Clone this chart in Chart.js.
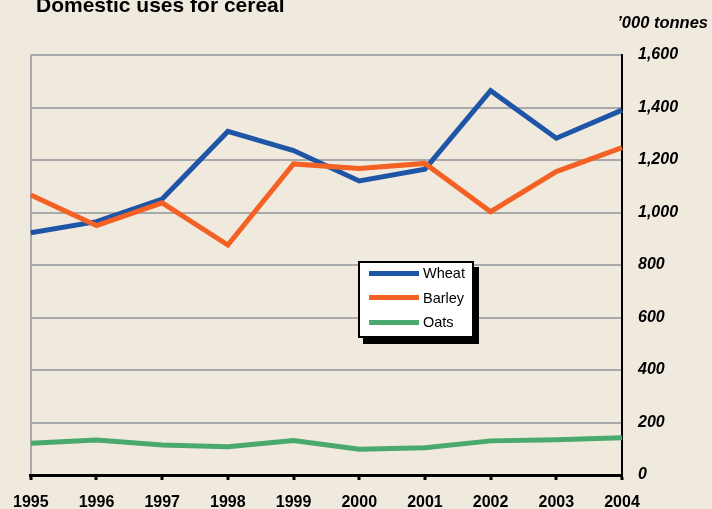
<!DOCTYPE html>
<html>
<head>
<meta charset="utf-8">
<script src="https://cdn.jsdelivr.net/npm/chart.js@4.4.0/dist/chart.umd.min.js"></script>
<style>
  html, body { margin: 0; padding: 0; background: #f0e9de; }
  #wrap { position: relative; width: 712px; height: 509px; overflow: hidden; }
  #legend {
    position: absolute; left: 358px; top: 261px; width: 112px; height: 73px;
    background: #fff; border: 2px solid #000; box-shadow: 5px 6px 0 #000;
    font-family: "Liberation Sans", Arial, sans-serif; font-size: 14.5px; color: #000;
  }
  .row { position: absolute; left: 9px; height: 20px; display: flex; align-items: center; }
  .row span.sw { display: inline-block; width: 50px; height: 5px; margin-right: 4px; }
</style>
</head>
<body>
<div id="wrap">
  <canvas id="chart" width="712" height="509"></canvas>
  <div id="legend"></div>
</div>
<script>
// ========== Data ==========
const years = ['1995', '1996', '1997', '1998', '1999', '2000', '2001', '2002', '2003', '2004'];
const wheat = [923, 965, 1051, 1309, 1236, 1120, 1165, 1464, 1283, 1390];
const barley = [1067, 950, 1037, 876, 1185, 1168, 1187, 1003, 1156, 1247];
const oats = [121, 133, 114, 108, 131, 98, 104, 130, 134, 142];
const seriesNames = ['Wheat', 'Barley', 'Oats'];
const seriesColors = ['#1f55a6', '#f36124', '#4aa96c'];

const FONT = '"Liberation Sans", Arial, sans-serif';

// Title and unit label drawn on the canvas
const textPlugin = {
  id: 'texts',
  afterDraw(chart) {
    const ctx = chart.ctx;
    ctx.save();
    ctx.fillStyle = '#000';
    ctx.textBaseline = 'alphabetic';
    ctx.textAlign = 'left';
    ctx.font = 'bold 21px ' + FONT;
    ctx.fillText('Domestic uses for cereal', 36, 12);
    ctx.textAlign = 'right';
    ctx.font = 'italic bold 16.5px ' + FONT;
    ctx.fillText('\u2019000 tonnes', 708, 28);
    ctx.restore();
  }
};

const allSeries = [wheat, barley, oats];
const drawOrder = [1, 0, 2];

new Chart(document.getElementById('chart'), {
  type: 'line',
  data: {
    labels: years,
    datasets: allSeries.map((d, i) => ({
      label: seriesNames[i],
      data: d,
      borderColor: seriesColors[i],
      borderWidth: 5,
      pointRadius: 0,
      tension: 0,
      order: drawOrder[i]
    }))
  },
  options: {
    responsive: false,
    animation: false,
    layout: { padding: { left: 30, top: 55, right: 0, bottom: 0 } },
    plugins: {
      legend: { display: false },
      tooltip: { enabled: false }
    },
    scales: {
      x: {
        offset: false,
        border: { color: '#000', width: 3 },
        grid: {
          color: ctx => ctx.index === 0 ? '#a9a9a9' : 'rgba(0,0,0,0)',
          lineWidth: 2,
          drawTicks: true,
          tickLength: 5,
          tickColor: '#000',
          tickWidth: 3
        },
        ticks: {
          color: '#000',
          font: { family: FONT, size: 16, weight: 'bold' },
          padding: 13,
          maxRotation: 0,
          autoSkip: false
        },
        afterFit(scale) { scale.height = 34; }
      },
      y: {
        position: 'right',
        min: 0,
        max: 1600,
        border: { color: '#000', width: 2 },
        grid: { color: '#a9a9a9', lineWidth: 2, drawTicks: false },
        ticks: {
          stepSize: 200,
          color: '#000',
          padding: 16,
          font: { family: FONT, size: 16, weight: 'bold', style: 'italic' },
          callback: v => v.toLocaleString('en-US')
        },
        afterFit(scale) { scale.width = 90; }
      }
    }
  },
  plugins: [textPlugin]
});

// ========== Legend ==========
const legend = document.getElementById('legend');
seriesNames.forEach((name, i) => {
  const row = document.createElement('div');
  row.className = 'row';
  row.style.top = (0 + i * 24.5) + 'px';
  row.innerHTML = '<span class="sw" style="background:' + seriesColors[i] + '"></span>' + name;
  legend.appendChild(row);
});
</script>
</body>
</html>
